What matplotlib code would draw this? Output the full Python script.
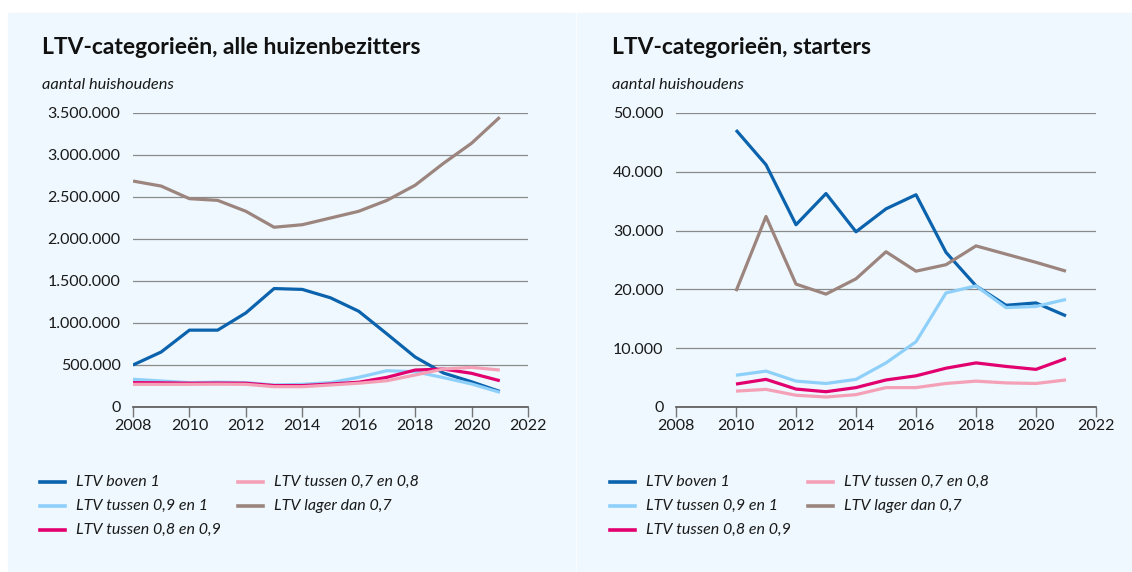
import matplotlib
matplotlib.use("Agg")
import matplotlib.pyplot as plt
from matplotlib.patches import Rectangle
from matplotlib.ticker import FuncFormatter

plt.rcParams['font.family'] = ['Lato', 'DejaVu Sans']

# ---- data: all homeowners ----
years_all = [2008, 2009, 2010, 2011, 2012, 2013, 2014, 2015, 2016, 2017, 2018, 2019, 2020, 2021]
all_boven1 = [500000, 655000, 915000, 915000, 1120000, 1410000, 1400000, 1300000, 1140000, 870000, 595000, 405000, 300000, 185000]
all_09_1 = [330000, 310000, 290000, 295000, 290000, 262000, 270000, 290000, 353000, 432000, 420000, 350000, 274000, 175000]
all_08_09 = [290000, 288000, 283000, 285000, 283000, 255000, 255000, 274000, 295000, 353000, 440000, 452000, 401000, 313000]
all_07_08 = [270000, 270000, 270000, 272000, 270000, 242000, 242000, 262000, 283000, 313000, 381000, 452000, 472000, 440000]
all_lager07 = [2690000, 2630000, 2480000, 2460000, 2330000, 2140000, 2170000, 2250000, 2330000, 2460000, 2640000, 2900000, 3140000, 3450000]

# ---- data: starters ----
years_st = [2010, 2011, 2012, 2013, 2014, 2015, 2016, 2017, 2018, 2019, 2020, 2021]
st_boven1 = [47100, 41200, 31000, 36300, 29800, 33700, 36100, 26300, 20600, 17300, 17700, 15500]
st_09_1 = [5400, 6100, 4400, 4000, 4700, 7500, 11100, 19400, 20600, 16900, 17100, 18300]
st_08_09 = [3900, 4700, 3050, 2600, 3300, 4600, 5300, 6600, 7500, 6900, 6400, 8250]
st_07_08 = [2700, 3000, 2000, 1700, 2100, 3300, 3300, 4000, 4400, 4100, 4000, 4600]
st_lager07 = [19700, 32400, 20900, 19200, 21800, 26400, 23100, 24200, 27400, 26000, 24600, 23100]

labels = ["LTV boven 1", "LTV tussen 0,9 en 1", "LTV tussen 0,8 en 0,9",
          "LTV tussen 0,7 en 0,8", "LTV lager dan 0,7"]
colors = ["#0b62ad", "#8fd0fb", "#e2006f", "#f4a0b6", "#9c857e"]
xticks = [2008, 2010, 2012, 2014, 2016, 2018, 2020, 2022]

titles = ["LTV-categorieën, alle huizenbezitters", "LTV-categorieën, starters"]
ylabel = "aantal huishoudens"

W, H = 1132, 572
fig = plt.figure(figsize=(W / 100, H / 100), dpi=100, facecolor="white")
bg = "#eef8fe"
for x0, x1 in [(8, 575), (577, 1132)]:
    r = Rectangle((x0 / W, 0), (x1 - x0) / W, (572 - 13) / H,
                  transform=fig.transFigure, color=bg, zorder=-10)
    fig.add_artist(r)


def fmt(v, pos):
    return f"{int(v):,}".replace(",", ".")


def make_panel(x0, x1, title_x, ymax, ystep, years, series, title):
    ax = fig.add_axes([x0 / W, 1 - 407 / H, (x1 - x0) / W, (407 - 113) / H])
    ax.set_zorder(5)
    ax.set_facecolor("none")
    for vals, c in zip(series, colors):
        ax.plot(years, vals, color=c, lw=2.3, solid_capstyle="butt",
                solid_joinstyle="round")
    ax.set_xlim(2008, 2022)
    ax.set_ylim(0, ymax)
    ax.set_xticks(xticks)
    ax.set_yticks(range(0, ymax + 1, ystep))
    ax.yaxis.set_major_formatter(FuncFormatter(fmt))
    ax.grid(axis="y", color="#8a8a8a", lw=0.9)
    ax.set_axisbelow(True)
    for s in ["top", "right", "left"]:
        ax.spines[s].set_visible(False)
    ax.spines["bottom"].set_color("#555555")
    ax.spines["bottom"].set_linewidth(1.2)
    ax.tick_params(axis="x", length=7, width=1, color="#777777",
                   labelsize=11.5, pad=2, labelcolor="#1a1a1a")
    ax.tick_params(axis="y", length=0, labelsize=11.5, pad=9, labelcolor="#1a1a1a")
    fig.text(title_x / W, 1 - 48 / H, title, fontsize=16.5, fontweight="bold",
             va="center", ha="left", color="#111111")
    fig.text(title_x / W, 1 - 85 / H, ylabel, fontsize=11.8, style="italic",
             va="center", ha="left", color="#1a1a1a")
    # legend
    cols = [(title_x - 2, [0, 1, 2]), (title_x + 196, [3, 4])]
    for lx, idxs in cols:
        for r, i in enumerate(idxs):
            y = 1 - (482 + 24 * r) / H
            fig.add_artist(plt.Line2D([lx / W, (lx + 25) / W], [y, y],
                                      color=colors[i], lw=2.6,
                                      transform=fig.transFigure))
            fig.text((lx + 36) / W, y, labels[i], fontsize=11.5, style="italic",
                     va="center", ha="left", color="#1a1a1a")
    return ax


make_panel(133, 528, 42, 3500000, 500000, years_all,
           [all_boven1, all_09_1, all_08_09, all_07_08, all_lager07], titles[0])
make_panel(676, 1096, 612, 50000, 10000, years_st,
           [st_boven1, st_09_1, st_08_09, st_07_08, st_lager07], titles[1])

fig.savefig("out.png", dpi=100, facecolor="white")
